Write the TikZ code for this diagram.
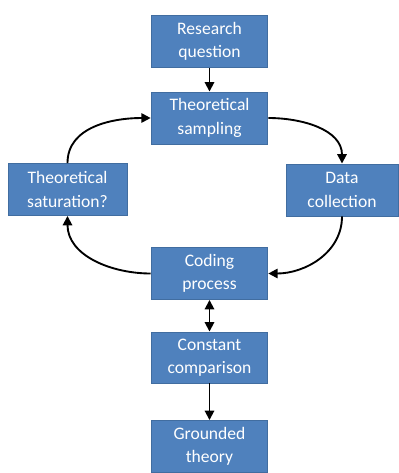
\documentclass[tikz,border=0pt]{standalone}
\usepackage{fontspec}
\setmainfont{Carlito}
\usetikzlibrary{arrows.meta}
\definecolor{boxfill}{RGB}{79,129,189}
\definecolor{boxline}{RGB}{65,109,160}
\begin{document}
\begin{tikzpicture}[x=0.03cm,y=-0.03cm,
  stage/.style={draw=boxline,line width=0.8pt,fill=boxfill,text=white,
    minimum width=3.5cm,minimum height=1.56cm,align=center,inner sep=1pt,
    font=\fontsize{15}{20}\selectfont},
  flow/.style={line width=1.6pt,-{Triangle[length=8pt,width=8pt]}},
  both/.style={line width=1.6pt,{Triangle[length=8pt,width=8pt]}-{Triangle[length=8pt,width=8pt]}}]
\useasboundingbox (0,0) rectangle (399,473);

% Boxes
\node (question) at (209.5,41.5) [stage] {Research\\question};
\node (sampling) at (209.5,118) [stage] {Theoretical\\sampling};
\node (saturation) at (67.5,189.5) [stage,minimum width=3.57cm] {Theoretical\\saturation?};
\node (collection) at (342,190) [stage,minimum width=3.36cm] {Data\\collection};
\node (coding) at (209.5,273.5) [stage] {Coding\\process};
\node (comparison) at (209.5,357.5) [stage,minimum height=1.53cm] {Constant\\comparison};
\node (grounded) at (209.5,446.5) [stage] {Grounded\\theory};

% Cycle
\draw[flow] (sampling.east) to[out=0,in=90] (collection.north);
\draw[flow] (collection.south) to[out=-90,in=0] (coding.east);
\draw[flow] (coding.west) to[out=180,in=-90] (saturation.south);
\draw[flow] (saturation.north) to[out=90,in=180] (sampling.west);

% Straight links
\draw[flow] (question) -- (sampling);
\draw[both] (coding) -- (comparison);
\draw[flow] (comparison) -- (grounded);

\end{tikzpicture}
\end{document}
